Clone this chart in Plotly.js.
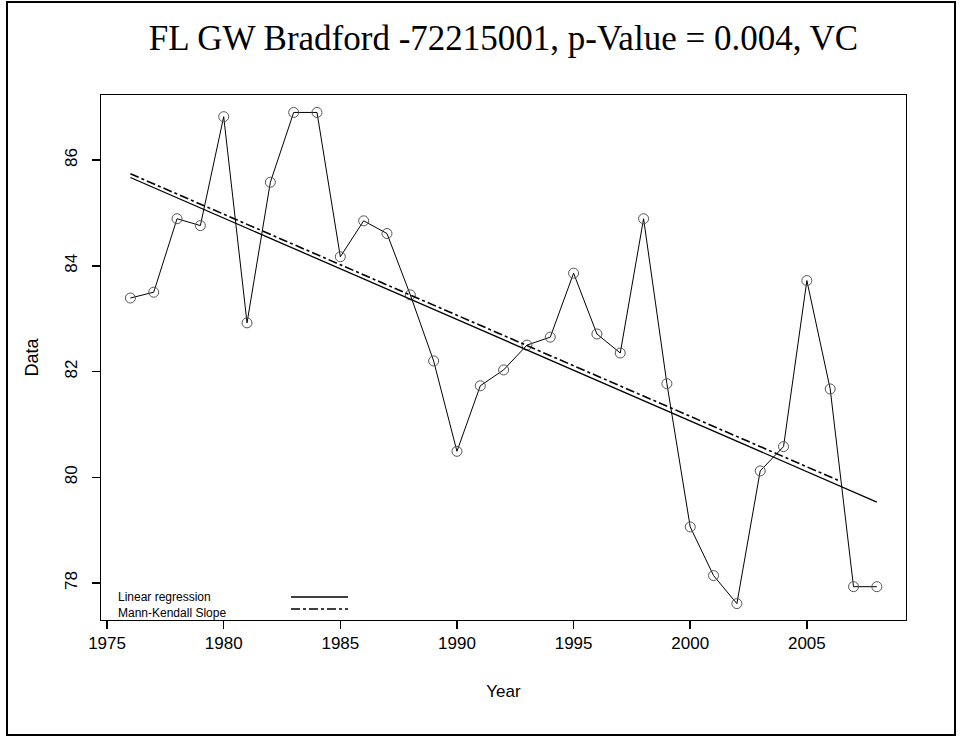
<!DOCTYPE html>
<html>
<head>
<meta charset="utf-8">
<script src="https://cdn.plot.ly/plotly-3.0.1.min.js"></script>
<style>
  html, body { margin: 0; padding: 0; background: #fff; }
  #chart { width: 964px; height: 742px; }
</style>
</head>
<body>
<div id="chart"></div>
<script>
// Observed series
const years = [1976, 1977, 1978, 1979, 1980, 1981, 1982, 1983, 1984, 1985, 1986,
               1987, 1988, 1989, 1990, 1991, 1992, 1993, 1994, 1995, 1996, 1997,
               1998, 1999, 2000, 2001, 2002, 2003, 2004, 2005, 2006, 2007, 2008];
const values = [83.39, 83.50, 84.89, 84.76, 86.82, 82.92, 85.58, 86.90, 86.90, 84.17, 84.85,
                84.61, 83.45, 82.20, 80.49, 81.73, 82.03, 82.50, 82.65, 83.86, 82.71, 82.35,
                84.89, 81.77, 79.06, 78.14, 77.61, 80.12, 80.58, 83.72, 81.67, 77.93, 77.93];

// Trend lines (end points)
const regX = [1976, 2008];
const regY = [85.67, 79.53];
const mkX = [1976, 2006.4];
const mkY = [85.74, 79.93];

// Tick labels
const xTicks = [1975, 1980, 1985, 1990, 1995, 2000, 2005];
const yTicks = [78, 80, 82, 84, 86];

const titleText = "FL GW Bradford -72215001, p-Value = 0.004, VC";
const legendLabels = ["Linear regression", "Mann-Kendall Slope"];

const sans = "Liberation Sans, Arial, sans-serif";
const serif = "Liberation Serif, Times New Roman, serif";

const traces = [
  {
    x: years, y: values, type: "scatter", mode: "lines+markers",
    line: { color: "#000", width: 1 },
    marker: { symbol: "circle-open", size: 10, color: "#555", line: { width: 1, color: "#555" } },
    showlegend: false, hoverinfo: "x+y"
  },
  {
    x: regX, y: regY, type: "scatter", mode: "lines",
    line: { color: "#000", width: 1.3 }, showlegend: false
  },
  {
    x: mkX, y: mkY, type: "scatter", mode: "lines",
    line: { color: "#000", width: 1.6, dash: "dashdot" }, showlegend: false
  }
];

// helpers for paper coordinates (plot area: x 101..906, y 95..620)
const L = 101, R = 906, T = 95, B = 620;
const px = v => (v - L) / (R - L);
const py = v => (B - v) / (B - T);

const layout = {
  width: 964, height: 742,
  margin: { l: L, r: 964 - R, t: T, b: 742 - B, pad: 0 },
  paper_bgcolor: "#fff", plot_bgcolor: "#fff",
  showlegend: false,
  title: {
    text: titleText,
    font: { family: serif, size: 35, color: "#000" },
    x: 0.5, xref: "paper", xanchor: "center",
    y: 1 - 38 / 742, yref: "container", yanchor: "middle"
  },
  xaxis: {
    range: [1974.74, 2009.25],
    tickmode: "array", tickvals: xTicks, ticktext: xTicks.map(String),
    ticks: "outside", ticklen: 8, tickwidth: 1.5, tickcolor: "#000",
    showline: true, linecolor: "#000", linewidth: 1, mirror: true,
    showgrid: false, zeroline: false,
    tickfont: { family: sans, size: 17, color: "#000" },
    title: { text: "Year", font: { family: sans, size: 17, color: "#000" }, standoff: 32 }
  },
  yaxis: {
    range: [77.30, 87.23],
    tickmode: "array", tickvals: yTicks, ticktext: yTicks.map(String),
    tickangle: -90,
    ticks: "outside", ticklen: 8, tickwidth: 1.5, tickcolor: "#000",
    ticklabelstandoff: 8,
    showline: true, linecolor: "#000", linewidth: 1, mirror: true,
    showgrid: false, zeroline: false,
    tickfont: { family: sans, size: 17, color: "#000" },
    title: { text: "Data", font: { family: sans, size: 18, color: "#000" }, standoff: 18 }
  },
  shapes: [
    // outer frame
    { type: "rect", xref: "paper", yref: "paper",
      x0: px(7), x1: px(955), y0: py(735), y1: py(2),
      line: { color: "#000", width: 2 }, fillcolor: "rgba(0,0,0,0)" },
    // legend samples
    { type: "line", xref: "paper", yref: "paper",
      x0: px(291), x1: px(348), y0: py(597), y1: py(597),
      line: { color: "#000", width: 1.3 } },
    { type: "line", xref: "paper", yref: "paper",
      x0: px(291), x1: px(348), y0: py(609), y1: py(609),
      line: { color: "#000", width: 1.3, dash: "dashdot" } }
  ],
  annotations: [
    { text: legendLabels[0] + "<br>" + legendLabels[1],
      xref: "paper", yref: "paper", x: px(117), y: py(605),
      xanchor: "left", yanchor: "middle", align: "left", showarrow: false, borderpad: 0,
      font: { family: sans, size: 12, color: "#000" } }
  ]
};

Plotly.newPlot("chart", traces, layout, { displayModeBar: false, staticPlot: true });
</script>
</body>
</html>
